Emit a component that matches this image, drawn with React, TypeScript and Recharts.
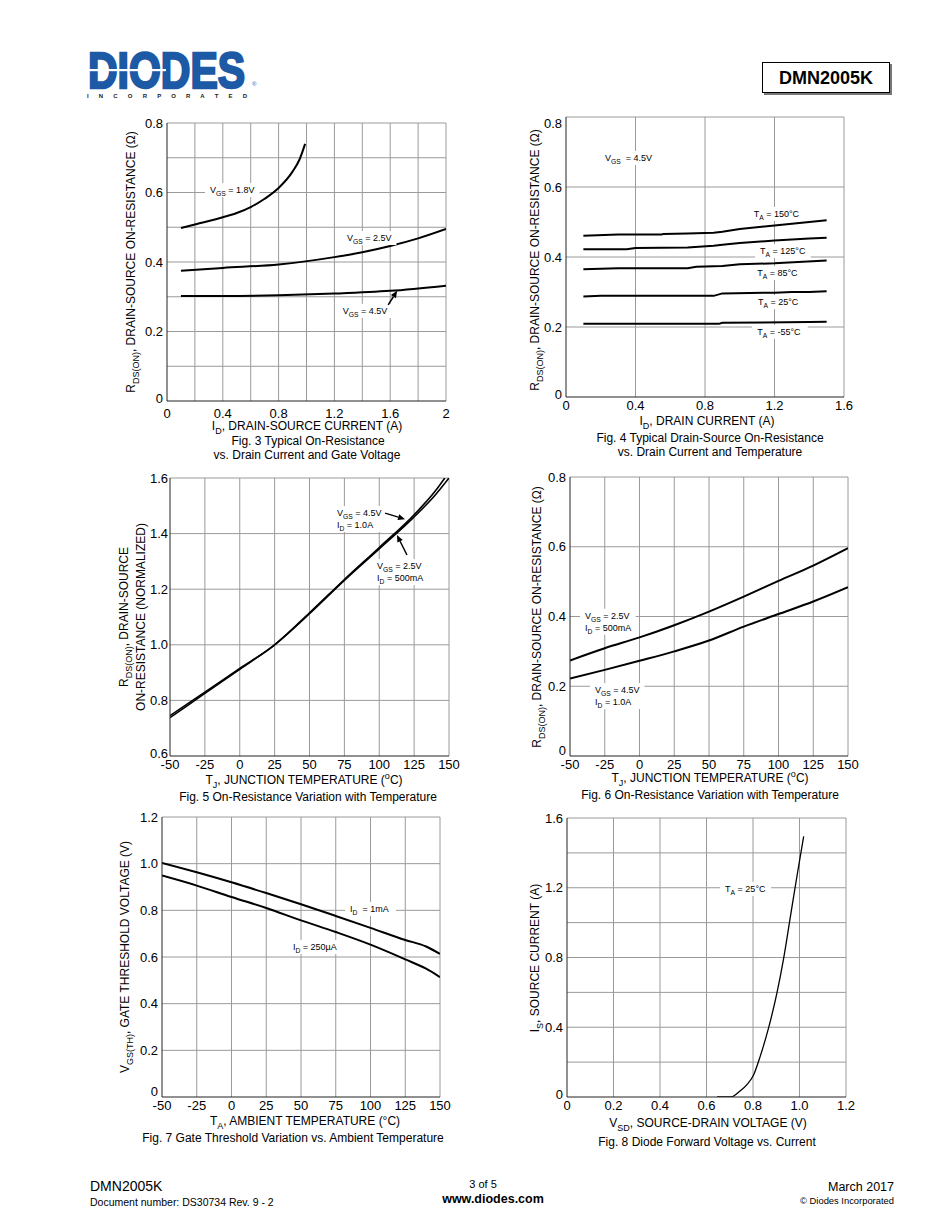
import React from "react";
import { LineChart, Line, XAxis, YAxis, ReferenceLine, ReferenceDot } from "recharts";

const FONT = "'Liberation Sans', Arial, Helvetica, sans-serif";

// Fig. 3 - RDS(ON) vs drain current at three gate voltages
const fig3Id18 = [0.1, 0.2, 0.3, 0.4, 0.5, 0.6, 0.7, 0.8, 0.9, 0.95, 0.99];
const fig3R18 = [0.498, 0.508, 0.518, 0.529, 0.541, 0.558, 0.582, 0.613, 0.66, 0.695, 0.74];
const fig3Id25 = [0.1, 0.4, 0.8, 1.2, 1.4, 1.6, 1.8, 2.0];
const fig3R25 = [0.375, 0.383, 0.393, 0.414, 0.428, 0.446, 0.468, 0.495];
const fig3Id45 = [0.1, 0.4, 0.8, 1.2, 1.6, 2.0];
const fig3R45 = [0.302, 0.302, 0.304, 0.309, 0.317, 0.332];
const fig3XTicks = [0, 0.4, 0.8, 1.2, 1.6, 2];
const fig3XGrid = [0.2, 0.4, 0.6, 0.8, 1.0, 1.2, 1.4, 1.6, 1.8, 2];
const fig3YTicks = [0, 0.2, 0.4, 0.6, 0.8];
const fig3YGrid = [0.1, 0.2, 0.3, 0.4, 0.5, 0.6, 0.7, 0.8];

// Fig. 4 - RDS(ON) vs drain current at five temperatures
const fig4Id150 = [0.1, 0.3, 0.55, 0.56, 0.7, 0.85, 0.9, 1.0, 1.2, 1.5];
const fig4R150 = [0.461, 0.464, 0.464, 0.466, 0.467, 0.469, 0.472, 0.48, 0.49, 0.505];
const fig4Id125 = [0.1, 0.35, 0.4, 0.7, 0.85, 0.9, 1.0, 1.2, 1.4, 1.5];
const fig4R125 = [0.422, 0.422, 0.426, 0.427, 0.432, 0.435, 0.44, 0.447, 0.453, 0.455];
const fig4Id85 = [0.1, 0.3, 0.7, 0.75, 0.9, 1.0, 1.2, 1.5];
const fig4R85 = [0.365, 0.368, 0.368, 0.372, 0.374, 0.379, 0.382, 0.39];
const fig4Id25 = [0.1, 0.2, 0.85, 0.9, 1.2, 1.3, 1.4, 1.5];
const fig4R25 = [0.287, 0.289, 0.289, 0.296, 0.298, 0.3, 0.3, 0.302];
const fig4IdM55 = [0.1, 0.88, 0.9, 1.4, 1.5];
const fig4RM55 = [0.209, 0.209, 0.212, 0.214, 0.215];
const fig4XTicks = [0, 0.4, 0.8, 1.2, 1.6];
const fig4XGrid = [0.4, 0.8, 1.2, 1.6];
const fig4YTicks = [0, 0.2, 0.4, 0.6, 0.8];
const fig4YGrid = [0.2, 0.4, 0.6, 0.8];

// Fig. 5 - normalized RDS(ON) vs junction temperature
const fig5T45 = [-50, -25, 0, 25, 50, 75, 100, 125, 140, 147];
const fig5R45 = [0.745, 0.83, 0.915, 1.0, 1.115, 1.235, 1.35, 1.468, 1.552, 1.6];
const fig5T25 = [-50, -25, 0, 25, 50, 75, 100, 125, 140, 150];
const fig5R25 = [0.738, 0.825, 0.912, 1.0, 1.112, 1.232, 1.345, 1.46, 1.538, 1.6];
const tempTicks = [-50, -25, 0, 25, 50, 75, 100, 125, 150];
const tempGrid = [-25, 0, 25, 50, 75, 100, 125, 150];
const fig5YTicks = [0.6, 0.8, 1.0, 1.2, 1.4, 1.6];
const fig5YGrid = [0.8, 1.0, 1.2, 1.4, 1.6];

// Fig. 6 - RDS(ON) vs junction temperature
const fig6T = [-50, -25, 0, 25, 50, 75, 100, 125, 150];
const fig6R25 = [0.274, 0.309, 0.34, 0.375, 0.414, 0.457, 0.502, 0.546, 0.596];
const fig6R45 = [0.222, 0.247, 0.273, 0.3, 0.331, 0.371, 0.407, 0.443, 0.484];
const fig6YTicks = [0, 0.2, 0.4, 0.6, 0.8];
const fig6YGrid = [0.2, 0.4, 0.6, 0.8];

// Fig. 7 - gate threshold vs ambient temperature
const fig7T = [-50, -25, 0, 25, 50, 75, 100, 125, 140, 150];
const fig7V1mA = [1.003, 0.963, 0.92, 0.874, 0.826, 0.776, 0.725, 0.673, 0.645, 0.613];
const fig7V250uA = [0.949, 0.906, 0.857, 0.81, 0.757, 0.707, 0.653, 0.59, 0.55, 0.514];
const fig7YTicks = [0, 0.2, 0.4, 0.6, 0.8, 1.0, 1.2];
const fig7YGrid = [0.2, 0.4, 0.6, 0.8, 1.0, 1.2];

// Fig. 8 - diode forward voltage vs current
const fig8Vsd = [0.645, 0.705, 0.74, 0.774, 0.803, 0.831, 0.867, 0.903, 0.932, 0.961, 0.989, 1.018];
const fig8Is = [0, 0, 0.03, 0.071, 0.128, 0.233, 0.396, 0.597, 0.797, 1.036, 1.266, 1.495];
const fig8XTicks = [0, 0.2, 0.4, 0.6, 0.8, 1.0, 1.2];
const fig8XGrid = [0.2, 0.4, 0.6, 0.8, 1.0, 1.2];
const fig8YTicks = [0, 0.4, 0.8, 1.2, 1.6];
const fig8YGrid = [0.2, 0.4, 0.6, 0.8, 1.0, 1.2, 1.4, 1.6];

type Pt = { x: number; y: number };
const pts = (xs: number[], ys: number[]): Pt[] => xs.map((x, i) => ({ x, y: ys[i] }));

const dec = (v: number) => (v === 0 ? "0" : v.toFixed(1));
const plain = (v: number) => String(v);

// tiny markup: _{sub} and ^{sup}
function parseRich(s: string) {
  const out: { t: string; k: string }[] = [];
  const re = /([_^])\{([^}]*)\}/g;
  let last = 0;
  let m: RegExpExecArray | null;
  while ((m = re.exec(s))) {
    if (m.index > last) out.push({ t: s.slice(last, m.index), k: "n" });
    out.push({ t: m[2], k: m[1] === "_" ? "sub" : "sup" });
    last = re.lastIndex;
  }
  if (last < s.length) out.push({ t: s.slice(last), k: "n" });
  return out;
}

function Rich({ s, size }: { s: string; size: number }) {
  let shift = 0;
  return (
    <>
      {parseRich(s).map((p, i) => {
        const target = p.k === "sub" ? size * 0.3 : p.k === "sup" ? -size * 0.4 : 0;
        const dy = target - shift;
        shift = target;
        return (
          <tspan key={i} dy={dy} fontSize={p.k === "n" ? size : size * 0.75}>
            {p.t}
          </tspan>
        );
      })}
    </>
  );
}

const richLen = (s: string) =>
  parseRich(s).reduce((a, p) => a + p.t.length * (p.k === "n" ? 1 : 0.75), 0);

function Note({ cx, cy, lines }: any) {
  const size = 9;
  const w = Math.max(...lines.map(richLen)) * size * 0.52 + 10;
  return (
    <g>
      <rect x={cx - 5} y={cy - 7} width={w} height={lines.length * 12 + 2} fill="#fff" />
      {lines.map((l: string, i: number) => (
        <text key={i} x={cx} y={cy + 3 + i * 12} fontSize={size} fontFamily={FONT} fill="#000" style={{ whiteSpace: "pre" }}>
          <Rich s={l} size={size} />
        </text>
      ))}
    </g>
  );
}

function Arrow({ cx, cy, dx, dy }: any) {
  const len = Math.hypot(dx, dy);
  const ux = -dx / len;
  const uy = -dy / len;
  const hl = 7;
  const hw = 3;
  const bx = cx - ux * hl;
  const by = cy - uy * hl;
  return (
    <g>
      <line x1={cx + dx} y1={cy + dy} x2={bx} y2={by} stroke="#000" strokeWidth={1.5} />
      <polygon points={`${cx},${cy} ${bx - uy * hw},${by + ux * hw} ${bx + uy * hw},${by - ux * hw}`} fill="#000" />
    </g>
  );
}

// y tick label; the bottom one sits a little higher, like the original
function YTick({ x, y, payload, fmt, min, max, topShift, bottomShift }: any) {
  const v = payload.value;
  const dy = v === min ? bottomShift : v === max ? topShift : 0;
  return (
    <text x={x} y={y + dy} dy="0.355em" textAnchor="end" fontSize={13} fontFamily={FONT} fill="#000">
      {fmt(v)}
    </text>
  );
}

type Series = { data: Pt[]; width?: number; curve?: any };
type NoteCfg = { x: number; y: number; lines: string[] };
type ArrowCfg = { x: number; y: number; dx: number; dy: number };

function Panel(props: {
  left: number; top: number; w: number; h: number;
  xDomain: number[]; xTicks: number[]; xGrid: number[]; xFmt: (v: number) => string;
  yDomain: number[]; yTicks: number[]; yGrid: number[]; yFmt: (v: number) => string;
  series: Series[]; notes?: NoteCfg[]; arrows?: ArrowCfg[]; xGap?: number; yGap?: number;
  topShift?: number; bottomShift?: number;
}) {
  const { left, top, w, h } = props;
  return (
    <div style={{ position: "absolute", left: left - 40, top: top - 10 }}>
      <LineChart width={40 + w + 14} height={10 + h + 26} margin={{ top: 10, right: 14, bottom: 0, left: 0 }}>
        <XAxis
          type="number" dataKey="x" domain={props.xDomain} ticks={props.xTicks} allowDataOverflow interval={0}
          height={26} axisLine={{ stroke: "#222" }} tickLine={false} tickSize={props.xGap ?? 2} tickMargin={2}
          tick={{ fill: "#000", fontSize: 13, fontFamily: FONT }} tickFormatter={props.xFmt}
        />
        <YAxis
          type="number" dataKey="y" domain={props.yDomain} ticks={props.yTicks} allowDataOverflow interval={0}
          width={40} axisLine={{ stroke: "#222" }} tickLine={false} tickSize={props.yGap ?? 2} tickMargin={2}
          tick={(p: any) => (
            <YTick {...p} fmt={props.yFmt} min={props.yDomain[0]} max={props.yDomain[1]}
              topShift={props.topShift ?? 0} bottomShift={props.bottomShift ?? -3} />
          )}
        />
        {props.xGrid.map((v) => (
          <ReferenceLine key={"gx" + v} x={v} stroke="#9a9a9a" strokeWidth={1} ifOverflow="visible" />
        ))}
        {props.yGrid.map((v) => (
          <ReferenceLine key={"gy" + v} y={v} stroke="#9a9a9a" strokeWidth={1} ifOverflow="visible" />
        ))}
        {props.series.map((s, i) => (
          <Line
            key={i} data={s.data} dataKey="y" type={s.curve ?? "monotone"} stroke="#000"
            strokeWidth={s.width ?? 2} dot={false} activeDot={false} isAnimationActive={false}
          />
        ))}
        {(props.notes ?? []).map((n, i) => (
          <ReferenceDot key={"n" + i} x={n.x} y={n.y} r={0} ifOverflow="visible"
            shape={(p: any) => <Note cx={p.cx} cy={p.cy} lines={n.lines} />} />
        ))}
        {(props.arrows ?? []).map((a, i) => (
          <ReferenceDot key={"a" + i} x={a.x} y={a.y} r={0} ifOverflow="visible"
            shape={(p: any) => <Arrow cx={p.cx} cy={p.cy} dx={a.dx} dy={a.dy} />} />
        ))}
      </LineChart>
    </div>
  );
}

function T({ x, y, s, size = 12, anchor = "middle", weight = 400, rot = false }: any) {
  return (
    <text
      x={x} y={y} fontSize={size} fontFamily={FONT} fontWeight={weight} textAnchor={anchor} fill="#000"
      style={{ whiteSpace: "pre" }} transform={rot ? `rotate(-90 ${x} ${y})` : undefined}
    >
      <Rich s={s} size={size} />
    </text>
  );
}

export default function App() {
  return (
    <div style={{ position: "absolute", left: 0, top: 0, width: 950, height: 1230, background: "#fff", overflow: "hidden" }}>
      <Panel
        left={167} top={123} w={279} h={278} xGap={6}
        xDomain={[0, 2]} xTicks={fig3XTicks} xGrid={fig3XGrid} xFmt={plain}
        yDomain={[0, 0.8]} yTicks={fig3YTicks} yGrid={fig3YGrid} yFmt={dec}
        series={[{ data: pts(fig3Id18, fig3R18) }, { data: pts(fig3Id25, fig3R25) }, { data: pts(fig3Id45, fig3R45) }]}
        notes={[
          { x: 0.308, y: 0.607, lines: ["V_{GS} = 1.8V"] },
          { x: 1.29, y: 0.469, lines: ["V_{GS} = 2.5V"] },
          { x: 1.26, y: 0.259, lines: ["V_{GS} = 4.5V"] },
        ]}
        arrows={[{ x: 1.65, y: 0.317, dx: -9, dy: 14 }]}
      />
      <Panel
        left={566} top={117} w={278} h={280} topShift={6}
        xDomain={[0, 1.6]} xTicks={fig4XTicks} xGrid={fig4XGrid} xFmt={dec}
        yDomain={[0, 0.8]} yTicks={fig4YTicks} yGrid={fig4YGrid} yFmt={dec}
        series={[
          { data: pts(fig4Id150, fig4R150), curve: "linear" },
          { data: pts(fig4Id125, fig4R125), curve: "linear" },
          { data: pts(fig4Id85, fig4R85), curve: "linear" },
          { data: pts(fig4Id25, fig4R25), curve: "linear" },
          { data: pts(fig4IdM55, fig4RM55), curve: "linear" },
        ]}
        notes={[
          { x: 0.224, y: 0.683, lines: ["V_{GS}  = 4.5V"] },
          { x: 1.08, y: 0.523, lines: ["T_{A} = 150°C"] },
          { x: 1.117, y: 0.417, lines: ["T_{A} = 125°C"] },
          { x: 1.1, y: 0.354, lines: ["T_{A} = 85°C"] },
          { x: 1.105, y: 0.271, lines: ["T_{A} = 25°C"] },
          { x: 1.1, y: 0.186, lines: ["T_{A} = -55°C"] },
        ]}
      />
      <Panel
        left={170} top={478} w={279} h={278} yGap={0}
        xDomain={[-50, 150]} xTicks={tempTicks} xGrid={tempGrid} xFmt={plain}
        yDomain={[0.6, 1.6]} yTicks={fig5YTicks} yGrid={fig5YGrid} yFmt={dec}
        series={[{ data: pts(fig5T45, fig5R45), width: 1.6 }, { data: pts(fig5T25, fig5R25), width: 1.6 }]}
        notes={[
          { x: 69.7, y: 1.474, lines: ["V_{GS} = 4.5V", "I_{D} = 1.0A"] },
          { x: 98.4, y: 1.283, lines: ["V_{GS} = 2.5V", "I_{D} = 500mA"] },
        ]}
        arrows={[
          { x: 118.5, y: 1.452, dx: -20, dy: -6 },
          { x: 112.7, y: 1.395, dx: 10, dy: 20 },
        ]}
      />
      <Panel
        left={570} top={477} w={278} h={279} bottomShift={-6}
        xDomain={[-50, 150]} xTicks={tempTicks} xGrid={tempGrid} xFmt={plain}
        yDomain={[0, 0.8]} yTicks={fig6YTicks} yGrid={fig6YGrid} yFmt={dec}
        series={[{ data: pts(fig6T, fig6R25) }, { data: pts(fig6T, fig6R45) }]}
        notes={[
          { x: -39.2, y: 0.402, lines: ["V_{GS} = 2.5V", "I_{D} = 500mA"] },
          { x: -32, y: 0.189, lines: ["V_{GS} = 4.5V", "I_{D} = 1.0A"] },
        ]}
      />
      <Panel
        left={162} top={817} w={278} h={280} bottomShift={-6}
        xDomain={[-50, 150]} xTicks={tempTicks} xGrid={tempGrid} xFmt={plain}
        yDomain={[0, 1.2]} yTicks={fig7YTicks} yGrid={fig7YGrid} yFmt={dec}
        series={[{ data: pts(fig7T, fig7V1mA) }, { data: pts(fig7T, fig7V250uA) }]}
        notes={[
          { x: 85.3, y: 0.806, lines: ["I_{D}  = 1mA"] },
          { x: 44.2, y: 0.643, lines: ["I_{D} = 250µA"] },
        ]}
      />
      <Panel
        left={567} top={818} w={279} h={279}
        xDomain={[0, 1.2]} xTicks={fig8XTicks} xGrid={fig8XGrid} xFmt={dec}
        yDomain={[0, 1.6]} yTicks={fig8YTicks} yGrid={fig8YGrid} yFmt={dec}
        series={[{ data: pts(fig8Vsd, fig8Is), width: 1.3 }]}
        notes={[{ x: 0.68, y: 1.193, lines: ["T_{A} = 25°C"] }]}
      />

      <svg width={950} height={1230} style={{ position: "absolute", left: 0, top: 0, pointerEvents: "none" }}>
        {/* header */}
        <g transform="translate(88 88) scale(1 1.2)">
          <text x={0} y={0} fontSize={41} fontWeight={700} fontFamily={FONT} fill="#1c5aa5" stroke="#1c5aa5" strokeWidth={2}>DIODES</text>
        </g>
        <rect x={86} y={69} width={80} height={2.2} fill="#fff" />
        <text x={252} y={86} fontSize={6} fontFamily={FONT} fill="#1c5aa5">®</text>
        <text x={87} y={98} fontSize={6} fontWeight={700} fontFamily={FONT} fill="#222" textLength={160}>I N C O R P O R A T E D</text>
        <rect x={764} y={64} width={128} height={31} fill="#777" />
        <rect x={762.5} y={62.5} width={127} height={30} fill="#fff" stroke="#000" strokeWidth={1} />
        <text x={826} y={84} fontSize={18} fontWeight={700} fontFamily={FONT} textAnchor="middle" fill="#000">DMN2005K</text>

        {/* fig 3 */}
        <T x={135} y={262} rot s="R_{DS(ON)}, DRAIN-SOURCE ON-RESISTANCE (Ω)" />
        <T x={307} y={430} s="I_{D}, DRAIN-SOURCE CURRENT (A)" />
        <T x={308} y={445} s="Fig. 3 Typical On-Resistance" />
        <T x={307} y={459} s="vs. Drain Current and Gate Voltage" />
        {/* fig 4 */}
        <T x={539} y={260} rot s="R_{DS(ON)}, DRAIN-SOURCE ON-RESISTANCE (Ω)" />
        <T x={707} y={425} s="I_{D}, DRAIN CURRENT (A)" />
        <T x={710} y={442} s="Fig. 4 Typical Drain-Source On-Resistance" />
        <T x={710} y={456} s="vs. Drain Current and Temperature" />
        {/* fig 5 */}
        <T x={128} y={617} rot s="R_{DS(ON)}, DRAIN-SOURCE" />
        <T x={145} y={617} rot s="ON-RESISTANCE (NORMALIZED)" />
        <T x={304} y={784} s="T_{J}, JUNCTION TEMPERATURE (^{o}C)" />
        <T x={308} y={801} s="Fig. 5 On-Resistance Variation with Temperature" />
        {/* fig 6 */}
        <T x={541} y={617} rot s="R_{DS(ON)}, DRAIN-SOURCE ON-RESISTANCE (Ω)" />
        <T x={710} y={782} s="T_{J}, JUNCTION TEMPERATURE (^{o}C)" />
        <T x={710} y={799} s="Fig. 6 On-Resistance Variation with Temperature" />
        {/* fig 7 */}
        <T x={129} y={957} rot s="V_{GS(TH)}, GATE THRESHOLD VOLTAGE (V)" />
        <T x={305} y={1125} s="T_{A}, AMBIENT TEMPERATURE (°C)" />
        <T x={293} y={1142} s="Fig. 7 Gate Threshold Variation vs. Ambient Temperature" />
        {/* fig 8 */}
        <T x={539} y={958} rot s="I_{S}, SOURCE CURRENT (A)" />
        <T x={708} y={1127} s="V_{SD}, SOURCE-DRAIN VOLTAGE (V)" />
        <T x={707} y={1146} s="Fig. 8 Diode Forward Voltage vs. Current" />

        {/* footer */}
        <T x={90} y={1191} size={14} anchor="start" s="DMN2005K" />
        <T x={90} y={1206} size={10.5} anchor="start" s="Document number: DS30734 Rev. 9 - 2" />
        <T x={483} y={1188} size={11} s="3 of 5" />
        <T x={493} y={1203} size={12.5} weight={700} s="www.diodes.com" />
        <T x={894} y={1191} size={12.5} anchor="end" s="March 2017" />
        <T x={894} y={1204} size={9.4} anchor="end" s="© Diodes Incorporated" />
      </svg>
    </div>
  );
}
